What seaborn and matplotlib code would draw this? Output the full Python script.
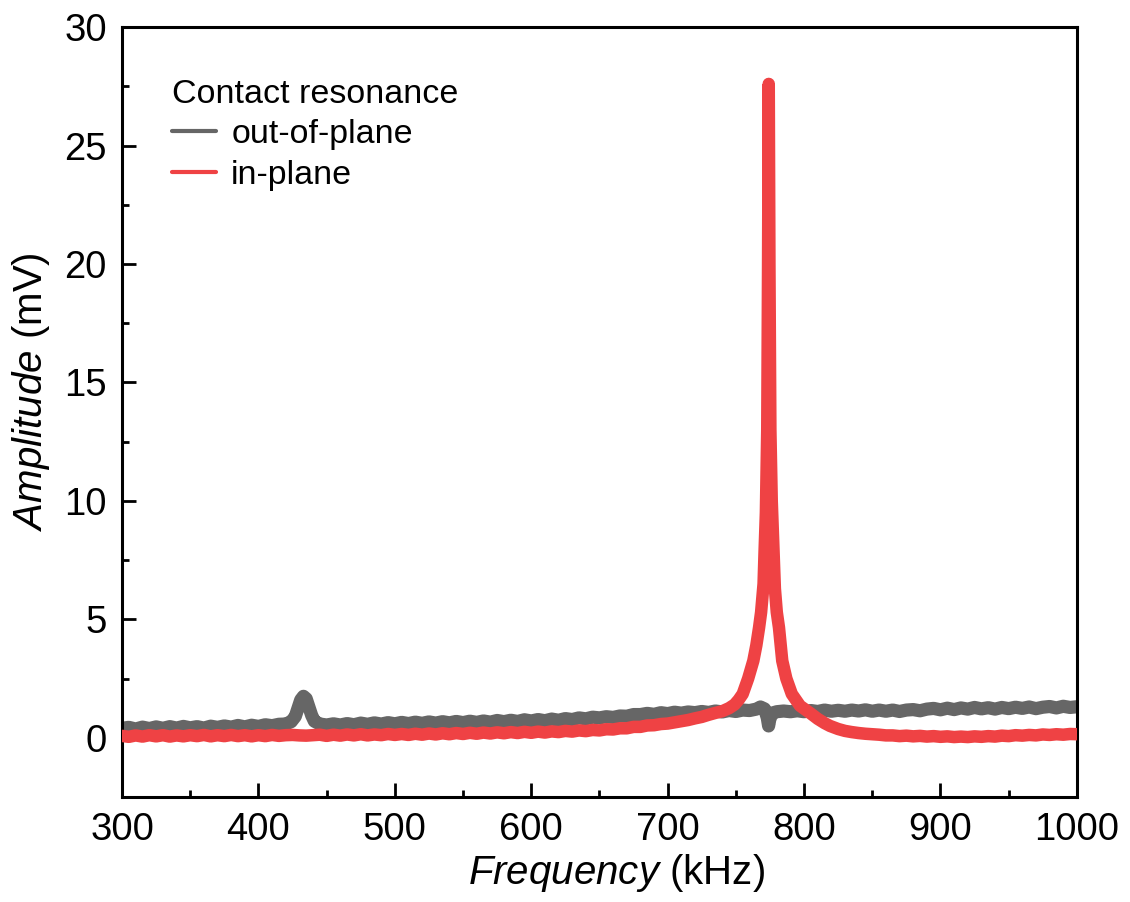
import matplotlib
matplotlib.use("Agg")
import matplotlib.pyplot as plt
import seaborn as sns
import pandas as pd
from matplotlib.ticker import MultipleLocator

# ---------------- data ----------------
gray_freq = [300, 305, 310, 315, 320, 325, 330, 335, 340, 345, 350, 355, 360, 365, 370, 375,
             380, 385, 390, 395, 400, 405, 410, 415, 420, 424, 427, 429, 431, 433, 435, 437,
             439, 441, 445, 450, 455, 460, 465, 470, 475, 480, 485, 490, 495, 500, 505, 510,
             515, 520, 525, 530, 535, 540, 545, 550, 555, 560, 565, 570, 575, 580, 585, 590,
             595, 600, 605, 610, 615, 620, 625, 630, 635, 640, 645, 650, 655, 660, 665, 670,
             675, 680, 685, 690, 695, 700, 705, 710, 715, 720, 725, 730, 735, 740, 745, 750,
             755, 760, 765, 768, 771, 773, 774, 775, 777, 780, 785, 790, 795, 800, 805,
             810, 815, 820, 825, 830, 835, 840, 845, 850, 855, 860, 865, 870, 875, 880, 885,
             890, 895, 900, 905, 910, 915, 920, 925, 930, 935, 940, 945, 950, 955, 960, 965,
             970, 975, 980, 985, 990, 995, 1000]
gray_amp = [0.40, 0.44, 0.37, 0.45, 0.39, 0.46, 0.40, 0.47, 0.41, 0.48, 0.42, 0.47, 0.41, 0.49,
            0.44, 0.50, 0.45, 0.52, 0.46, 0.53, 0.48, 0.55, 0.51, 0.57, 0.58, 0.68, 0.90, 1.25,
            1.60, 1.75, 1.65, 1.30, 0.95, 0.70, 0.58, 0.54, 0.59, 0.54, 0.60, 0.55, 0.62, 0.57,
            0.63, 0.58, 0.64, 0.59, 0.65, 0.60, 0.66, 0.61, 0.67, 0.62, 0.68, 0.63, 0.69, 0.64,
            0.70, 0.65, 0.71, 0.66, 0.73, 0.68, 0.74, 0.69, 0.76, 0.71, 0.77, 0.72, 0.79, 0.74,
            0.81, 0.77, 0.84, 0.80, 0.87, 0.84, 0.89, 0.86, 0.92, 0.91, 0.98, 0.98, 1.03, 0.99,
            1.06, 1.02, 1.08, 1.04, 1.09, 1.06, 1.11, 1.07, 1.13, 1.09, 1.15, 1.11, 1.17, 1.15,
            1.21, 1.30, 1.22, 0.85, 0.50, 0.82, 1.05, 1.10, 1.13, 1.10, 1.14, 1.10, 1.15, 1.11,
            1.17, 1.12, 1.16, 1.12, 1.17, 1.13, 1.18, 1.12, 1.17, 1.12, 1.17, 1.11, 1.17, 1.19,
            1.14, 1.21, 1.24, 1.18, 1.25, 1.19, 1.26, 1.21, 1.28, 1.22, 1.27, 1.21, 1.28, 1.23,
            1.29, 1.24, 1.30, 1.23, 1.29, 1.32, 1.26, 1.33, 1.28, 1.31]

red_freq = [300, 305, 310, 315, 320, 325, 330, 335, 340, 345, 350, 355, 360, 365, 370, 375,
            380, 385, 390, 395, 400, 405, 410, 415, 420, 425, 430, 435, 440, 445, 450, 455,
            460, 465, 470, 475, 480, 485, 490, 495, 500, 505, 510, 515, 520, 525, 530, 535,
            540, 545, 550, 555, 560, 565, 570, 575, 580, 585, 590, 595, 600, 605, 610, 615,
            620, 625, 630, 635, 640, 645, 650, 655, 660, 665, 670, 675, 680, 685, 690, 695,
            700, 705, 710, 715, 720, 725, 730, 735, 740, 745, 749, 752, 755, 759, 762.8, 765,
            767, 768.5, 770.3, 771.0, 772.0, 773.0, 773.6, 774.1, 774.6, 775.3, 776.3, 777.5,
            778.6, 780, 781.6, 784, 787, 791, 797, 805, 810, 815, 819, 825, 830,
            835, 840, 845, 850, 855, 860, 865, 870, 875, 880, 885, 890, 895, 900, 905, 910,
            915, 920, 925, 930, 935, 940, 945, 950, 955, 960, 965, 970, 975, 980, 985, 990,
            995, 1000]
red_amp = [0.08, 0.04, 0.10, 0.05, 0.11, 0.06, 0.11, 0.05, 0.10, 0.06, 0.11, 0.07, 0.12, 0.06,
           0.11, 0.07, 0.12, 0.07, 0.11, 0.06, 0.11, 0.07, 0.12, 0.08, 0.11, 0.12, 0.10, 0.09,
           0.11, 0.13, 0.08, 0.13, 0.09, 0.14, 0.10, 0.15, 0.10, 0.14, 0.11, 0.16, 0.12, 0.16,
           0.12, 0.17, 0.13, 0.18, 0.14, 0.19, 0.15, 0.20, 0.16, 0.21, 0.17, 0.22, 0.18, 0.23,
           0.19, 0.24, 0.20, 0.25, 0.21, 0.26, 0.22, 0.27, 0.24, 0.29, 0.26, 0.31, 0.28, 0.33,
           0.31, 0.36, 0.35, 0.40, 0.40, 0.46, 0.46, 0.52, 0.53, 0.58, 0.60, 0.65, 0.70, 0.75,
           0.82, 0.88, 0.97, 1.05, 1.12, 1.25, 1.40, 1.60, 1.85, 2.50, 3.25, 3.90,
           4.65, 5.30, 6.50, 7.80, 9.50, 13.0, 20.0, 27.6, 20.0, 13.0, 10.0, 8.0,
           6.3, 5.3, 4.65, 3.25, 2.50, 1.85, 1.35, 1.02, 0.80, 0.62, 0.50, 0.37, 0.29, 0.24, 0.20,
           0.17, 0.15, 0.13, 0.10, 0.10, 0.07, 0.09, 0.06, 0.08, 0.05, 0.07, 0.04, 0.06, 0.03,
           0.05, 0.03, 0.06, 0.04, 0.07, 0.05, 0.09, 0.07, 0.11, 0.09, 0.12, 0.10, 0.14, 0.12,
           0.15, 0.13, 0.16, 0.15]

series_labels = ["out-of-plane", "in-plane"]
series_colors = ["#666666", "#EF4244"]
legend_title = "Contact resonance"
x_ticks = [300, 400, 500, 600, 700, 800, 900, 1000]
y_ticks = [0, 5, 10, 15, 20, 25, 30]

# ---------------- style ----------------
sns.set_theme(style="ticks")
plt.rcParams["font.family"] = ["Liberation Sans", "DejaVu Sans"]
plt.rcParams["mathtext.fontset"] = "custom"
plt.rcParams["mathtext.it"] = "Liberation Sans:italic"
plt.rcParams["mathtext.rm"] = "Liberation Sans"
plt.rcParams["text.color"] = "black"
plt.rcParams["axes.labelcolor"] = "black"

fig = plt.figure(figsize=(11.3, 9.02), dpi=100)
ax = fig.add_axes([0.108, 0.1164, 0.845, 0.8536])

df_gray = pd.DataFrame({"f": gray_freq, "a": gray_amp})
df_red = pd.DataFrame({"f": red_freq, "a": red_amp})

sns.lineplot(data=df_gray, x="f", y="a", ax=ax, color=series_colors[0], lw=9.5,
             label=series_labels[0], sort=False, estimator=None,
             solid_capstyle="round", solid_joinstyle="round", zorder=2)
sns.lineplot(data=df_red, x="f", y="a", ax=ax, color=series_colors[1], lw=9,
             label=series_labels[1], sort=False, estimator=None,
             solid_capstyle="round", solid_joinstyle="round", zorder=3)

ax.set_xlim(300, 1000)
ax.set_ylim(-2.5, 30)
ax.set_xticks(x_ticks)
ax.set_yticks(y_ticks)
ax.xaxis.set_minor_locator(MultipleLocator(50))
ax.yaxis.set_minor_locator(MultipleLocator(2.5))
ax.tick_params(which="major", direction="in", length=10, width=2, labelsize=27.5, pad=11,
               colors="black")
ax.tick_params(which="minor", direction="in", length=5, width=2, colors="black")
for s in ax.spines.values():
    s.set_linewidth(2.2)
    s.set_color("black")
    s.set_visible(True)

ax.set_xlabel(r"$\it{Frequency}$ (kHz)", fontsize=29)
ax.set_ylabel(r"$\it{Amplitude}$ (mV)", fontsize=29)
ax.xaxis.set_label_coords(0.518, -0.072)
ax.yaxis.set_label_coords(-0.073, 0.526)

leg = ax.legend(title=legend_title, loc="upper left", frameon=False, fontsize=24.5,
                title_fontsize=24.5, alignment="left", handlelength=1.3,
                handletextpad=0.45, labelspacing=0.28, borderaxespad=0.0,
                borderpad=0.0, bbox_to_anchor=(0.052, 0.933))
for h in leg.legend_handles:
    h.set_linewidth(3)

fig.savefig("out.png", dpi=100, facecolor="white")
